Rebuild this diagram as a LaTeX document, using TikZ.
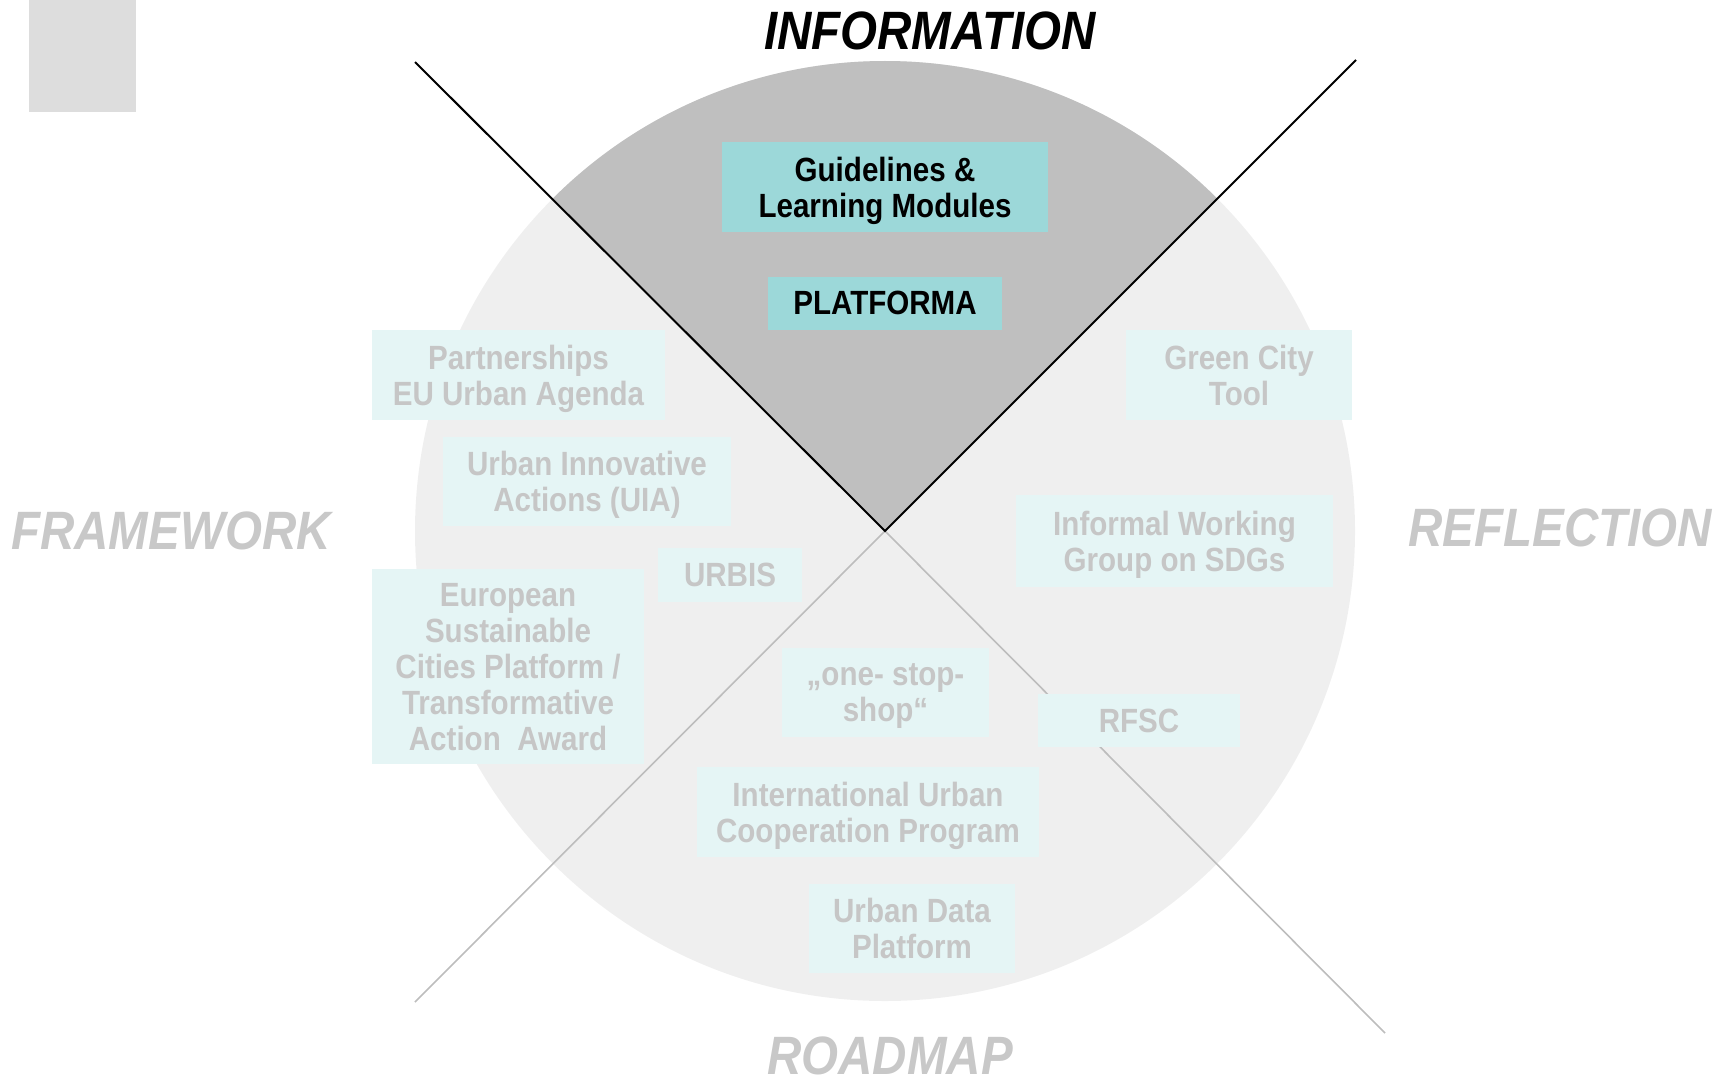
\documentclass[tikz,border=0pt]{standalone}
\usepackage{fontspec}
\setmainfont{Liberation Sans}[FakeStretch=0.88]
\definecolor{sqgray}{HTML}{DDDDDD}
\definecolor{circgray}{HTML}{EFEFEF}
\definecolor{sectgray}{HTML}{BFBFBF}
\definecolor{tealfill}{HTML}{9CD8D9}
\definecolor{palefill}{HTML}{E5F5F5}
\definecolor{txtgray}{HTML}{C6C6C6}
\definecolor{lblgray}{HTML}{C8C8C8}
\definecolor{linegray}{HTML}{BDBDBD}
\tikzset{
  boxbase/.style={inner sep=0pt, align=center, text depth=0pt, font=\bfseries\fontsize{16.8}{18}\selectfont},
  tealbox/.style={boxbase, fill=tealfill, text=black},
  palebox/.style={boxbase, fill=palefill, text=txtgray},
  biglabel/.style={inner sep=0pt, font=\bfseries\itshape\fontsize{27}{30}\selectfont},
  darkline/.style={draw=black, line width=1pt},
  lightline/.style={draw=linegray, line width=0.8pt}
}
\begin{document}
\begin{tikzpicture}[x=0.5pt,y=-0.5pt]
\useasboundingbox (0,0) rectangle (1732,1075);
% grey square top left
\fill[sqgray] (29,0) rectangle (136,112);
% circle and sector
\coordinate (c) at (885,531);
\fill[circgray] (c) circle[radius=470];
\fill[sectgray] (c) -- ++(225:470) arc[start angle=225,end angle=315,radius=470] -- cycle;
% crossing lines
\coordinate (ul) at (415,62);
\coordinate (ur) at (1356,60);
\coordinate (ll) at (415,1002);
\coordinate (lr) at (1385,1033);
\draw[lightline] (c) -- (ll);
\draw[lightline] (c) -- (lr);
\draw[darkline] (ul) -- (c) -- (ur);
% quadrant labels
\node[biglabel, text=black] (info) at (930,31) {INFORMATION};
\node[biglabel, text=lblgray] (frame) at (171,531) {FRAMEWORK};
\node[biglabel, text=lblgray] (refl) at (1560,528) {REFLECTION};
\node[biglabel, text=lblgray] (road) at (890,1056) {ROADMAP};
% boxes
\node[tealbox, minimum width=163pt, minimum height=45pt] (guide) at (885,187) {Guidelines \&\\Learning Modules};
\node[tealbox, minimum width=117pt, minimum height=26.5pt] (platf) at (885,303) {PLATFORMA};
\node[palebox, minimum width=146.5pt, minimum height=45pt] (partner) at (518.5,375) {Partnerships\\EU Urban Agenda};
\node[palebox, minimum width=144pt, minimum height=44.5pt] (uia) at (587,481.5) {Urban Innovative\\Actions  (UIA)};
\node[palebox, minimum width=72pt, minimum height=27pt] (urbis) at (730,575) {URBIS};
\node[palebox, minimum width=136pt, minimum height=97.5pt] (escp) at (508,666.5) {European\\Sustainable\\Cities Platform /\\Transformative\\Action\ \ Award};
\node[palebox, minimum width=113pt, minimum height=45pt] (green) at (1239,375) {Green City\\Tool};
\node[palebox, minimum width=158.5pt, minimum height=46pt] (iwg) at (1174.5,541) {Informal Working\\Group on SDGs};
\node[palebox, minimum width=103.5pt, minimum height=44.5pt] (oss) at (885.5,692.5) {„one- stop-\\shop“};
\node[palebox, minimum width=101pt, minimum height=26.5pt] (rfsc) at (1139,720.5) {RFSC};
\node[palebox, minimum width=171pt, minimum height=45pt] (iucp) at (868,812) {International Urban\\Cooperation Program};
\node[palebox, minimum width=103pt, minimum height=44.5pt] (udp) at (912,928.5) {Urban Data\\Platform};
\end{tikzpicture}
\end{document}
